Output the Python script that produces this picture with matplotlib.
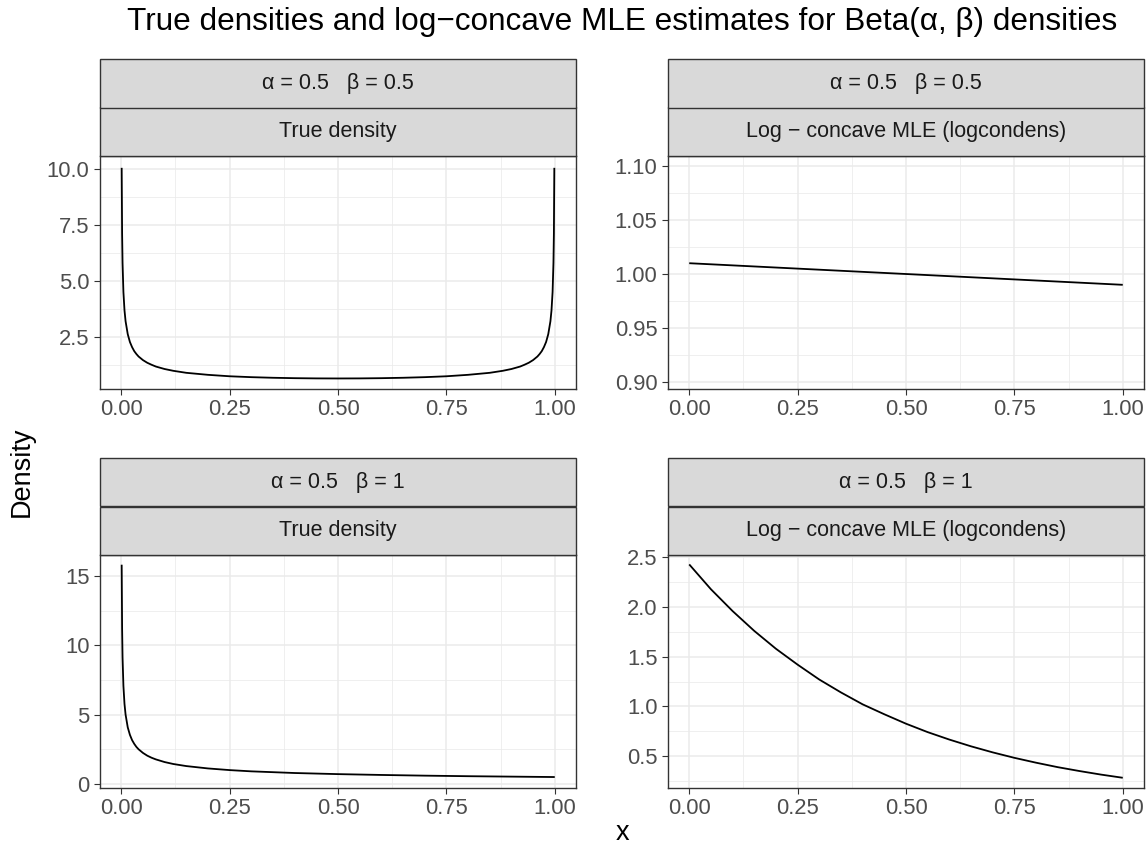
import numpy as np
import matplotlib
matplotlib.use("Agg")
import matplotlib.pyplot as plt
from matplotlib.patches import Rectangle
from matplotlib.ticker import MultipleLocator

plt.rcParams['font.family'] = ['Liberation Sans', 'DejaVu Sans']

# Beta(0.5, 0.5) true density
x_tl = [0.001, 0.002, 0.003, 0.005, 0.0075, 0.01, 0.015, 0.02, 0.025, 0.03, 0.035, 0.04,
        0.05, 0.06, 0.07, 0.08, 0.1, 0.12, 0.15, 0.2, 0.25, 0.3, 0.35, 0.4, 0.45, 0.5,
        0.55, 0.6, 0.65, 0.7, 0.75, 0.8, 0.85, 0.88, 0.9, 0.92, 0.93, 0.94, 0.95, 0.96,
        0.965, 0.97, 0.975, 0.98, 0.985, 0.99, 0.9925, 0.995, 0.997, 0.998, 0.999]
y_tl = [10.07, 7.12, 5.82, 4.51, 3.69, 3.20, 2.62, 2.27, 2.04, 1.86, 1.73, 1.62,
        1.46, 1.34, 1.25, 1.17, 1.06, 0.98, 0.89, 0.80, 0.735, 0.695, 0.668, 0.650, 0.640, 0.637,
        0.640, 0.650, 0.668, 0.695, 0.735, 0.80, 0.89, 0.98, 1.06, 1.17, 1.25, 1.34, 1.46, 1.62,
        1.73, 1.86, 2.04, 2.27, 2.62, 3.20, 3.69, 4.51, 5.82, 7.12, 10.07]

# log-concave MLE for Beta(0.5, 0.5)
x_tr = [0.0, 0.5, 1.0]
y_tr = [1.010, 1.000, 0.990]

# Beta(0.5, 1) true density
x_bl = [0.001, 0.002, 0.003, 0.005, 0.0075, 0.01, 0.015, 0.02, 0.025, 0.03, 0.035, 0.04,
        0.05, 0.06, 0.07, 0.08, 0.1, 0.12, 0.15, 0.2, 0.25, 0.3, 0.4, 0.5, 0.6, 0.7,
        0.8, 0.9, 1.0]
y_bl = [15.8, 11.2, 9.13, 7.07, 5.77, 5.0, 4.08, 3.54, 3.16, 2.89, 2.67, 2.5,
        2.24, 2.04, 1.89, 1.77, 1.58, 1.44, 1.29, 1.12, 1.0, 0.91, 0.79, 0.71, 0.65, 0.60,
        0.56, 0.53, 0.50]

# log-concave MLE for Beta(0.5, 1)
x_br = [0.0, 0.05, 0.1, 0.15, 0.2, 0.25, 0.3, 0.35, 0.4, 0.45, 0.5, 0.55, 0.6, 0.65,
        0.7, 0.75, 0.8, 0.85, 0.9, 0.95, 1.0]
y_br = [2.43, 2.18, 1.96, 1.76, 1.58, 1.42, 1.27, 1.14, 1.02, 0.92, 0.825, 0.74, 0.665,
        0.597, 0.536, 0.481, 0.432, 0.387, 0.348, 0.312, 0.280]

strip_top = ["α = 0.5   β = 0.5", "α = 0.5   β = 0.5", "α = 0.5   β = 1", "α = 0.5   β = 1"]
strip_bot = ["True density", "Log − concave MLE (logcondens)",
             "True density", "Log − concave MLE (logcondens)"]
x_ticks = [0.0, 0.25, 0.5, 0.75, 1.0]
x_labels = ["0.00", "0.25", "0.50", "0.75", "1.00"]
y_ticks = [[2.5, 5.0, 7.5, 10.0], [0.90, 0.95, 1.00, 1.05, 1.10],
           [0, 5, 10, 15], [0.5, 1.0, 1.5, 2.0, 2.5]]
y_labels = [["2.5", "5.0", "7.5", "10.0"], ["0.90", "0.95", "1.00", "1.05", "1.10"],
            ["0", "5", "10", "15"], ["0.5", "1.0", "1.5", "2.0", "2.5"]]
y_minor = [1.25, 0.025, 2.5, 0.25]
y_lims = [(0.165, 10.6), (0.8935, 1.1093), (-0.29, 16.5), (0.177, 2.525)]

W, H = 1148, 846
fig = plt.figure(figsize=(W / 100, H / 100), dpi=100)

cols = [(100, 576), (668, 1144)]
rows = [(156, 389), (555, 788)]
strip_h = 48.5

curves = [(x_tl, y_tl), (x_tr, y_tr), (x_bl, y_bl), (x_br, y_br)]
for i, (xs, ys) in enumerate(curves):
    c0, c1 = cols[i % 2]
    r0, r1 = rows[i // 2]
    ax = fig.add_axes([c0 / W, 1 - r1 / H, (c1 - c0) / W, (r1 - r0) / H])
    ax.plot(xs, ys, color='black', lw=1.3, solid_capstyle='butt', solid_joinstyle='round')
    ax.set_xlim(-0.049, 1.049)
    ax.set_ylim(*y_lims[i])
    ax.set_xticks(x_ticks)
    ax.set_xticklabels(x_labels)
    ax.set_yticks(y_ticks[i])
    ax.set_yticklabels(y_labels[i])
    ax.xaxis.set_minor_locator(MultipleLocator(0.125))
    ax.yaxis.set_minor_locator(MultipleLocator(y_minor[i]))
    ax.grid(which='major', color='#EBEBEB', lw=1.1)
    ax.grid(which='minor', color='#EBEBEB', lw=0.55)
    ax.set_axisbelow(True)
    ax.tick_params(which='major', length=4.5, width=0.8, color='#333333',
                   labelsize=15.8, labelcolor='#4D4D4D', pad=3)
    ax.tick_params(which='minor', length=0)
    for s in ax.spines.values():
        s.set_color('#333333')
        s.set_linewidth(1.0)

    # two stacked facet strips
    sax = fig.add_axes([c0 / W, 1 - r0 / H, (c1 - c0) / W, 2 * strip_h / H])
    sax.set_xlim(0, 1)
    sax.set_ylim(0, 2)
    sax.axis('off')
    for j, lab in enumerate([strip_bot[i], strip_top[i]]):
        sax.add_patch(Rectangle((0, j), 1, 1, facecolor='#D9D9D9', edgecolor='#333333',
                                lw=1.0, clip_on=False))
        sax.text(0.5, j + 0.5, lab, ha='center', va='center', fontsize=15.5, color='#1A1A1A')

fig.text(622 / W, 1 - 22 / H, "True densities and log−concave MLE estimates for Beta(α, β) densities",
         ha='center', va='center', fontsize=22.7, color='black')
fig.text(622 / W, 1 - 840 / H, "x", ha='center', va='baseline', fontsize=19.5)
fig.text(22 / W, 1 - 472 / H, "Density", ha='center', va='center', rotation=90, fontsize=19.5)

fig.savefig("out.png", dpi=100)
